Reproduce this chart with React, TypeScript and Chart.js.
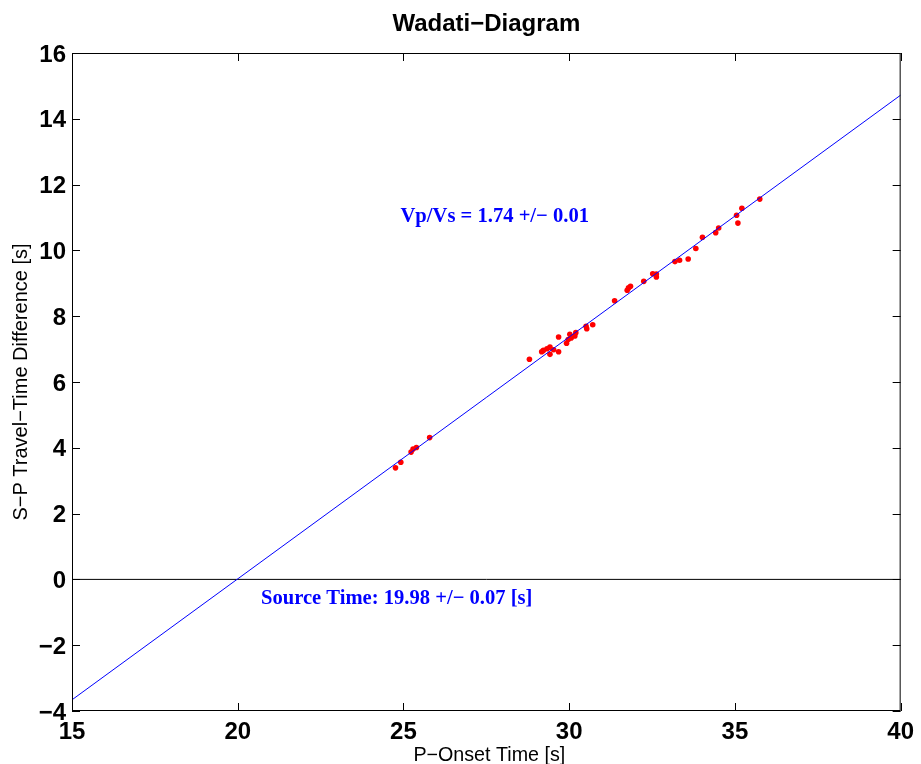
import { useEffect, useRef } from "react";
import { Chart, registerables } from "chart.js";

Chart.register(...registerables);

// P-onset times [s]
const pOnset = [
  24.76, 24.92, 25.23, 25.29, 25.39, 25.79,
  28.8, 29.17, 29.22, 29.33, 29.42, 29.42, 29.53, 29.68, 29.68, 29.92, 29.97, 30.02, 30.06, 30.17, 30.2, 30.51, 30.53, 30.71,
  31.37, 31.75, 31.79, 31.85, 32.25, 32.52, 32.63, 32.63, 33.19, 33.33, 33.59, 33.82,
  34.02, 34.42, 34.51, 35.05, 35.09, 35.21, 35.75,
];
// S-P travel-time differences [s]
const spDiff = [
  3.39, 3.56, 3.87, 3.96, 4.01, 4.31,
  6.69, 6.92, 6.96, 7.01, 7.06, 6.84, 6.98, 7.37, 6.92, 7.18, 7.29, 7.45, 7.34, 7.4, 7.5, 7.69, 7.62, 7.74,
  8.47, 8.79, 8.86, 8.91, 9.06, 9.29, 9.28, 9.19, 9.66, 9.7, 9.74, 10.06,
  10.4, 10.54, 10.68, 11.07, 10.83, 11.28, 11.56,
];
// Fitted Wadati line
const fitX = [15, 40];
const fitY = [-3.66, 14.72];
// Zero line
const zeroX = [15, 40];
const zeroY = [0, 0];

const xRange = [15, 40];
const xStep = 5;
const yRange = [-4, 16];
const yStep = 2;

const titleText = "Wadati\u2212Diagram";
const xTitle = "P\u2212Onset Time [s]";
const yTitle = "S\u2212P Travel\u2212Time Difference [s]";
const vpvsText = "Vp/Vs = 1.74 +/\u2212 0.01";
const sourceText = "Source Time: 19.98 +/\u2212 0.07 [s]";
// annotation anchors (data coordinates, left / baseline)
const vpvsAnchor = [24.91, 10.86];
const sourceAnchor = [20.7, -0.757];

export default function App() {
  const ref = useRef<HTMLCanvasElement | null>(null);

  useEffect(() => {
    document.body.style.margin = "0";
    const canvas = ref.current;
    if (!canvas) return;

    const decor = {
      id: "decor",
      afterDraw(chart: any) {
        const ctx = chart.ctx;
        const a = chart.chartArea;
        const xs = chart.scales.x;
        const ys = chart.scales.y;
        ctx.save();
        // box
        ctx.strokeStyle = "#000";
        ctx.lineWidth = 1;
        ctx.strokeRect(a.left + 0.5, a.top + 0.5, a.right - a.left - 1, a.bottom - a.top - 1);
        // inward ticks
        const tl = 8;
        ctx.beginPath();
        xs.ticks.forEach((t: any) => {
          const px = Math.round(xs.getPixelForValue(t.value)) + 0.5;
          ctx.moveTo(px, a.bottom);
          ctx.lineTo(px, a.bottom - tl);
          ctx.moveTo(px, a.top);
          ctx.lineTo(px, a.top + tl);
        });
        ys.ticks.forEach((t: any) => {
          const py = Math.round(ys.getPixelForValue(t.value)) + 0.5;
          ctx.moveTo(a.left, py);
          ctx.lineTo(a.left + tl, py);
          ctx.moveTo(a.right, py);
          ctx.lineTo(a.right - tl, py);
        });
        ctx.stroke();

        // title
        ctx.fillStyle = "#000";
        ctx.font = 'bold 24px "Liberation Sans", Arial, sans-serif';
        ctx.textAlign = "center";
        ctx.textBaseline = "alphabetic";
        ctx.fillText(titleText, (a.left + a.right) / 2, 31);

        // axis titles
        ctx.font = '19.7px "Liberation Sans", Arial, sans-serif';
        ctx.fillText(xTitle, (a.left + a.right) / 2 + 3, 761);
        ctx.save();
        ctx.translate(27, (a.top + a.bottom) / 2);
        ctx.rotate(-Math.PI / 2);
        ctx.font = '20px "Liberation Sans", Arial, sans-serif';
        ctx.fillText(yTitle, 0, 0);
        ctx.restore();

        // annotations
        ctx.fillStyle = "#0000ff";
        ctx.font = 'bold 20.6px "Liberation Serif", "Times New Roman", serif';
        ctx.textAlign = "left";
        ctx.fillText(vpvsText, xs.getPixelForValue(vpvsAnchor[0]), ys.getPixelForValue(vpvsAnchor[1]));
        ctx.fillText(sourceText, xs.getPixelForValue(sourceAnchor[0]), ys.getPixelForValue(sourceAnchor[1]));
        ctx.restore();
      },
    };

    const tickFont = { family: '"Liberation Sans", Arial, sans-serif', size: 24, weight: "bold" as const };

    const chart = new Chart(canvas, {
      type: "scatter",
      data: {
        datasets: [
          {
            type: "line",
            data: fitX.map((x, i) => ({ x, y: fitY[i] })),
            borderColor: "#0000ff",
            borderWidth: 1,
            pointRadius: 0,
            fill: false,
          },
          {
            type: "line",
            data: zeroX.map((x, i) => ({ x, y: zeroY[i] })),
            borderColor: "#000",
            borderWidth: 1,
            pointRadius: 0,
            fill: false,
          },
          {
            data: pOnset.map((x, i) => ({ x, y: spDiff[i] })),
            backgroundColor: "#ff0000",
            borderWidth: 0,
            pointRadius: 2.8,
          },
        ] as any,
      },
      options: {
        responsive: false,
        animation: false,
        layout: { padding: { top: 53, right: 17, left: 0, bottom: 0 } },
        plugins: { legend: { display: false }, title: { display: false }, tooltip: { enabled: false } },
        scales: {
          x: {
            type: "linear",
            min: xRange[0],
            max: xRange[1],
            ticks: { stepSize: xStep, color: "#000", font: tickFont, padding: 7, maxRotation: 0 },
            grid: { display: false, drawTicks: false },
            border: { display: false },
            afterFit: (s: any) => { s.height = 53; },
          },
          y: {
            type: "linear",
            min: yRange[0],
            max: yRange[1],
            ticks: {
              stepSize: yStep,
              color: "#000",
              font: tickFont,
              padding: 6,
              labelOffset: 2,
              callback: (v: any) => (Number(v) < 0 ? "\u2212" + Math.abs(Number(v)) : String(v)),
            },
            grid: { display: false, drawTicks: false },
            border: { display: false },
            afterFit: (s: any) => { s.width = 72; },
          },
        },
      },
      plugins: [decor],
    });
    return () => chart.destroy();
  }, []);

  return <canvas ref={ref} width={921} height={764} style={{ display: "block" }} />;
}
